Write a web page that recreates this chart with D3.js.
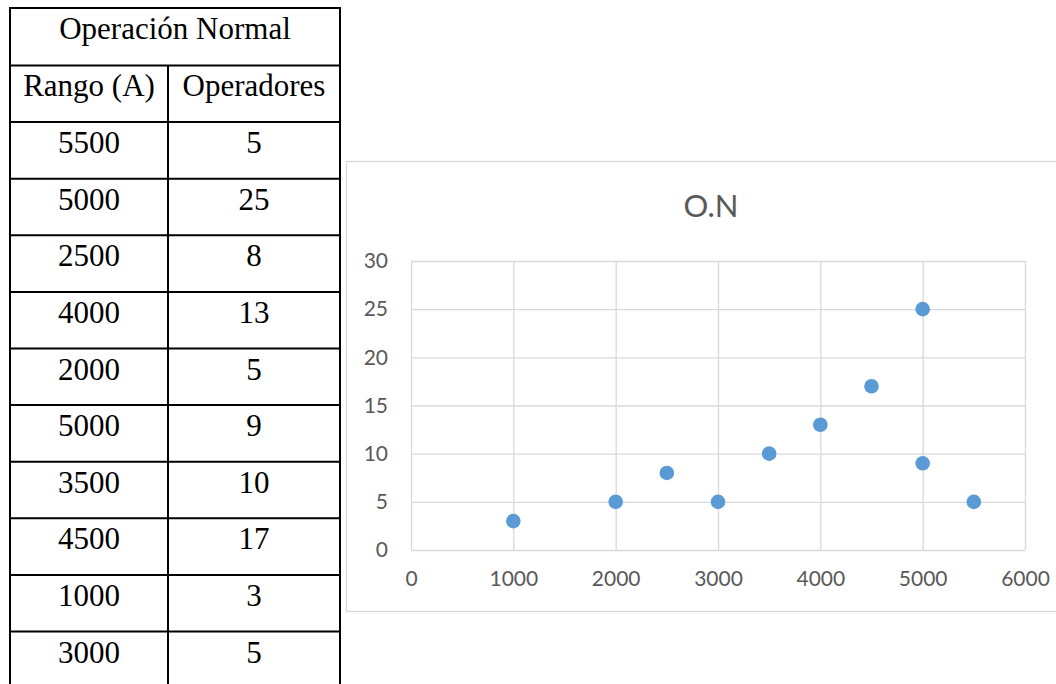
<!DOCTYPE html>
<html>
<head>
<meta charset="utf-8">
<script src="https://cdn.jsdelivr.net/npm/d3@7"></script>
<style>
  body { margin: 0; background: #fff; }
  svg { display: block; }
</style>
</head>
<body>
<div id="chart"></div>
<script>
// data from the table (same order as the sheet)
const rango = [5500, 5000, 2500, 4000, 2000, 5000, 3500, 4500, 1000, 3000];
const operadores = [5, 25, 8, 13, 5, 9, 10, 17, 3, 5];
const tableTitle = 'Operación Normal';
const colHeaders = ['Rango (A)', 'Operadores'];
const chartTitle = 'O.N';
const xTicks = [0, 1000, 2000, 3000, 4000, 5000, 6000];
const yTicks = [0, 5, 10, 15, 20, 25, 30];

const width = 1056, height = 684;
const svg = d3.select('#chart').append('svg')
    .attr('width', width).attr('height', height);

// ---- table ----
const tbl = { left: 10, right: 340, mid: 168, top: 8, headH: 57.5, rowH: 56.6 };
const rowTops = d3.range(rango.length + 2).map(i => i === 0 ? tbl.top : tbl.top + tbl.headH + (i - 1) * tbl.rowH);
const tableG = svg.append('g').attr('class', 'table')
    .style('font-family', '"Liberation Serif", "Times New Roman", serif')
    .style('font-size', '31px').style('fill', '#000');

// horizontal lines
tableG.selectAll('line.h').data(rowTops.concat([rowTops[rowTops.length - 1] + tbl.rowH])).join('line')
    .attr('class', 'h')
    .attr('x1', tbl.left - 1).attr('x2', tbl.right + 1)
    .attr('y1', d => d).attr('y2', d => d)
    .attr('stroke', '#000').attr('stroke-width', 2);
// vertical lines
tableG.append('line').attr('x1', tbl.left).attr('x2', tbl.left)
    .attr('y1', tbl.top - 1).attr('y2', height).attr('stroke', '#000').attr('stroke-width', 2);
tableG.append('line').attr('x1', tbl.right).attr('x2', tbl.right)
    .attr('y1', tbl.top - 1).attr('y2', height).attr('stroke', '#000').attr('stroke-width', 2);
tableG.append('line').attr('x1', tbl.mid).attr('x2', tbl.mid)
    .attr('y1', rowTops[1]).attr('y2', height).attr('stroke', '#000').attr('stroke-width', 2);

const c1 = (tbl.left + tbl.mid) / 2, c2 = (tbl.mid + tbl.right) / 2;
tableG.append('text').attr('x', (tbl.left + tbl.right) / 2).attr('y', rowTops[0] + 31)
    .attr('text-anchor', 'middle').text(tableTitle);
tableG.selectAll('text.colh').data(colHeaders).join('text').attr('class', 'colh')
    .attr('x', (d, i) => i === 0 ? c1 : c2).attr('y', rowTops[1] + 30)
    .attr('text-anchor', 'middle').text(d => d);
const rows = rango.map((r, i) => ({ r, o: operadores[i], top: rowTops[i + 2] }));
tableG.selectAll('text.r').data(rows).join('text').attr('class', 'r')
    .attr('x', c1).attr('y', d => d.top + 31).attr('text-anchor', 'middle').text(d => d.r);
tableG.selectAll('text.o').data(rows).join('text').attr('class', 'o')
    .attr('x', c2).attr('y', d => d.top + 31).attr('text-anchor', 'middle').text(d => d.o);

// ---- scatter chart ----
const box = { x: 346.5, y: 161.5, w: 720, h: 450 };
svg.append('rect').attr('x', box.x).attr('y', box.y).attr('width', box.w).attr('height', box.h)
    .attr('fill', '#fff').attr('stroke', '#d9d9d9').attr('stroke-width', 1.3);

const plot = { left: 411, right: 1025, top: 261, bottom: 550 };
const xScale = d3.scaleLinear([0, 6000], [plot.left, plot.right]);
const yScale = d3.scaleLinear([0, 30], [plot.bottom, plot.top]);

const chartG = svg.append('g').attr('class', 'scatter')
    .style('font-family', 'Lato, "Open Sans", sans-serif');

chartG.append('text').attr('x', 711).attr('y', 217).attr('text-anchor', 'middle')
    .style('font-size', '31px').style('fill', '#595959').text(chartTitle);

// gridlines via axes
const yGrid = d3.axisLeft(yScale).tickValues(yTicks).tickSize(-(plot.right - plot.left)).tickFormat('');
const xGrid = d3.axisBottom(xScale).tickValues(xTicks).tickSize(-(plot.bottom - plot.top)).tickFormat('');
chartG.append('g').attr('transform', `translate(${plot.left},0)`).call(yGrid)
    .call(g => g.select('.domain').remove())
    .call(g => g.selectAll('line').attr('stroke', '#d9d9d9').attr('stroke-width', 1.3));
chartG.append('g').attr('transform', `translate(0,${plot.bottom})`).call(xGrid)
    .call(g => g.select('.domain').remove())
    .call(g => g.selectAll('line').attr('stroke', '#d9d9d9').attr('stroke-width', 1.3));

// tick labels
const labelStyle = g => g.selectAll('text').style('font-size', '21px').style('fill', '#595959')
    .style('font-family', 'Lato, "Open Sans", sans-serif');
const yAxis = d3.axisLeft(yScale).tickValues(yTicks).tickSize(0).tickPadding(23);
chartG.append('g').attr('transform', `translate(${plot.left},0)`).call(yAxis)
    .call(g => g.select('.domain').remove())
    .call(labelStyle);
const xAxis = d3.axisBottom(xScale).tickValues(xTicks).tickSize(0).tickPadding(21)
    .tickFormat(d3.format('d'));
chartG.append('g').attr('transform', `translate(0,${plot.bottom})`).call(xAxis)
    .call(g => g.select('.domain').remove())
    .call(labelStyle);

// points
chartG.append('g').selectAll('circle').data(rows).join('circle')
    .attr('cx', d => xScale(d.r)).attr('cy', d => yScale(d.o)).attr('r', 7.3)
    .attr('fill', '#5b9bd5');
</script>
</body>
</html>
